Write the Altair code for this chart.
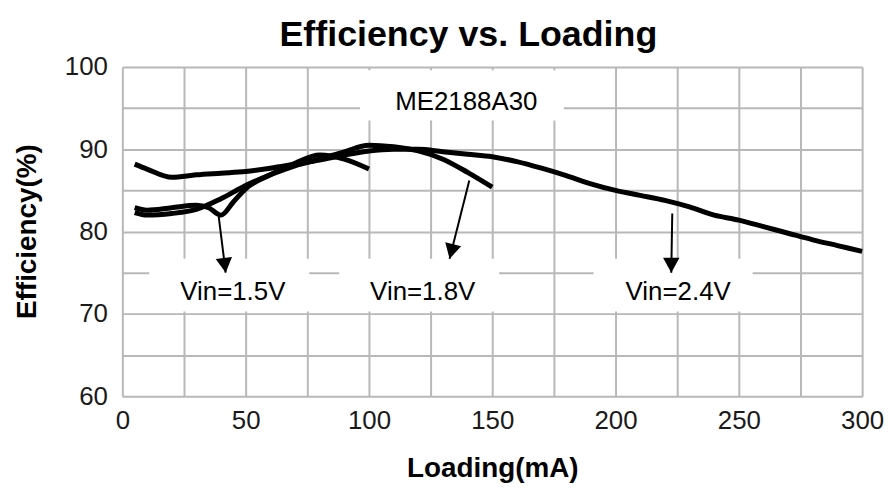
import altair as alt
import pandas as pd

# --- data ---
x_15 = [5, 10, 20, 30, 35, 40, 45, 50, 60, 70, 80, 90, 100]
y_15 = [82.9, 82.6, 82.9, 83.2, 82.9, 82.0, 83.6, 85.2, 86.9, 88.3, 89.3, 88.8, 87.6]

x_18 = [5, 10, 20, 30, 40, 50, 60, 70, 80, 90, 100, 110, 120, 130, 140, 150]
y_18 = [82.3, 82.0, 82.2, 82.7, 84.0, 85.6, 86.9, 88.0, 88.8, 89.7, 90.5, 90.3, 89.8, 88.8, 87.2, 85.4]

x_24 = [5, 10, 20, 30, 40, 50, 60, 70, 80, 90, 100, 110, 120, 130, 140, 150,
        160, 170, 180, 190, 200, 210, 220, 230, 240, 250, 260, 270, 280, 290, 300]
y_24 = [88.2, 87.6, 86.6, 86.9, 87.1, 87.3, 87.7, 88.2, 88.7, 89.3, 89.8, 90.0, 90.0, 89.7, 89.4, 89.1,
        88.5, 87.7, 86.8, 85.8, 85.0, 84.4, 83.8, 83.0, 82.0, 81.4, 80.6, 79.8, 79.0, 78.3, 77.6]

x_ticks = [0, 25, 50, 75, 100, 125, 150, 175, 200, 225, 250, 275, 300]
y_ticks = [60, 65, 70, 75, 80, 85, 90, 95, 100]

# annotation labels (text, anchor position in data units)
ann_text = ["ME2188A30", "Vin=1.5V", "Vin=1.8V", "Vin=2.4V"]
ann_x = [139.5, 44.8, 121.8, 225.4]
ann_y = [95.8, 72.7, 72.7, 72.7]
# white label backgrounds
box_x = [96.4, 10.9, 87.9, 191.1]
box_x2 = [179.0, 75.8, 152.8, 255.6]
box_y = [99.6, 76.7, 76.7, 76.7]
box_y2 = [93.5, 70.3, 70.3, 70.3]
# arrows: start -> tip, with head angle
arr_x = [39.1, 140.7, 223.0]
arr_y = [81.8, 86.2, 82.2]
arr_x2 = [41.9, 132.7, 222.6]
arr_y2 = [75.0, 76.7, 75.0]
arr_angle = [353, 14, 0]

FONT = "Liberation Sans"

curves = pd.concat([
    pd.DataFrame({"load": x_15, "eff": y_15, "s": "Vin=1.5V"}),
    pd.DataFrame({"load": x_18, "eff": y_18, "s": "Vin=1.8V"}),
    pd.DataFrame({"load": x_24, "eff": y_24, "s": "Vin=2.4V"}),
])
boxes = pd.DataFrame({"x": box_x, "x2": box_x2, "y": box_y, "y2": box_y2})
labels = pd.DataFrame({"t": ann_text, "x": ann_x, "y": ann_y})
arrows = pd.DataFrame({"x": arr_x, "y": arr_y, "x2": arr_x2, "y2": arr_y2, "a": arr_angle})

xs = alt.Scale(domain=[0, 300], nice=False, zero=False)
ys = alt.Scale(domain=[60, 100], nice=False, zero=False)

x_axis = alt.Axis(
    values=x_ticks, labelExpr="datum.value % 50 == 0 ? datum.label : ''",
    title="Loading(mA)", titleFont=FONT, titleFontSize=28, titleFontWeight="bold",
    titleColor="#000", titleX=372, titleY=73, titleBaseline="middle",
    labelFont=FONT, labelFontSize=26, labelColor="#1a1a1a", labelPadding=12,
    labelFlush=False, labelOverlap=False, ticks=False, domain=False,
    grid=True, gridColor="#b8b8b8", gridWidth=2,
)
y_axis = alt.Axis(
    values=y_ticks, labelExpr="datum.value % 10 == 0 ? datum.label : ''",
    title="Efficiency(%)", titleFont=FONT, titleFontSize=28, titleFontWeight="bold",
    titleColor="#000", titleX=-95, titleY=165, titleAngle=-90, titleBaseline="middle",
    titleAlign="center",
    labelFont=FONT, labelFontSize=26, labelColor="#1a1a1a", labelPadding=15,
    labelFlush=False, labelOverlap=False, ticks=False, domain=False,
    grid=True, gridColor="#b8b8b8", gridWidth=2,
)

lines = alt.Chart(curves).mark_line(color="black", strokeWidth=5, interpolate="monotone").encode(
    x=alt.X("load:Q", scale=xs, axis=x_axis),
    y=alt.Y("eff:Q", scale=ys, axis=y_axis),
    detail="s:N",
)

rects = alt.Chart(boxes).mark_rect(color="white").encode(
    x=alt.X("x:Q", scale=xs), x2="x2", y=alt.Y("y:Q", scale=ys), y2="y2"
)

texts = alt.Chart(labels).mark_text(font=FONT, fontSize=26, color="black", baseline="middle", align="center").encode(
    x=alt.X("x:Q", scale=xs), y=alt.Y("y:Q", scale=ys), text="t:N"
)

shafts = alt.Chart(arrows).mark_rule(color="black", strokeWidth=2).encode(
    x=alt.X("x:Q", scale=xs), y=alt.Y("y:Q", scale=ys), x2="x2", y2="y2"
)
heads = alt.Chart(arrows).mark_point(
    shape="M0,0L-0.55,-1L0.55,-1Z", filled=True, color="black", opacity=1, size=900, strokeWidth=0
).encode(
    x=alt.X("x2:Q", scale=xs), y=alt.Y("y2:Q", scale=ys), angle=alt.Angle("a:Q", scale=None)
)

chart = alt.layer(rects, lines, shafts, heads, texts).properties(
    width=744, height=331,
    autosize=alt.AutoSizeParams(type="none"),
    padding={"left": 115, "top": 58, "right": 24, "bottom": 90},
    title=alt.TitleParams(
        "Efficiency vs. Loading", font=FONT, fontSize=36, fontWeight="bold", color="#000",
        anchor="middle", dx=-24, dy=36, offset=0, baseline="bottom",
    ),
).configure_view(stroke="#999999", strokeWidth=2).configure(background="white")

chart.save("out.html", embed_options={"renderer": "svg", "actions": False})
